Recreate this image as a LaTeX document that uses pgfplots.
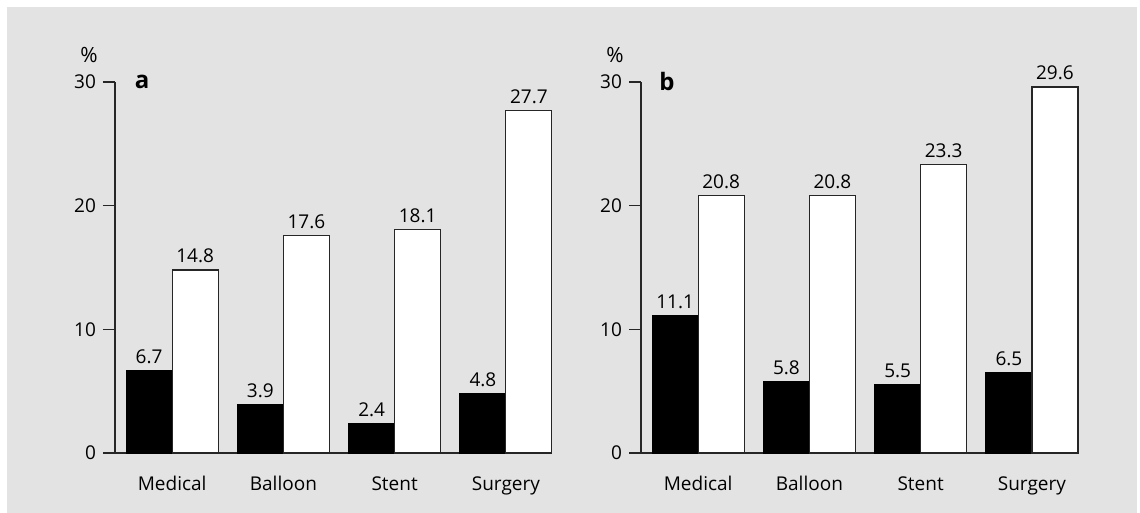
\documentclass[border=0pt]{standalone}
\usepackage{fontspec}
\setmainfont{Open Sans}
\usepackage{pgfplots}
\pgfplotsset{compat=1.18}
\definecolor{bg}{RGB}{227,227,227}
\pgfplotsset{
  panel/.style={
    scale only axis, width=218.5pt, height=185.5pt, anchor=south west,
    xmin=-0.5135, xmax=3.4144, ymin=0, ymax=30,
    axis x line=bottom, axis y line=left,
    axis line style={-, line width=0.6pt, black!85},
    ytick={0,10,20,30},
    xtick={0,1,2,3}, xticklabels={Medical,Balloon,Stent,Surgery},
    xtick style={draw=none},
    ytick style={line width=0.6pt, black!85},
    tick align=outside, major tick length=6pt,
    ybar, bar width=23pt,
    clip=false,
    tick label style={font=\fontsize{9.5}{11}\selectfont},
    xticklabel style={anchor=base, yshift=-13pt},
    /pgf/number format/assume math mode=true,
    nodes near coords={\pgfmathprintnumber[fixed,fixed zerofill,precision=1]{\pgfplotspointmeta}},
    every node near coord/.append style={font=\fontsize{9.5}{11}\selectfont, anchor=base, yshift=3.5pt, inner sep=0pt, black},
  },
  blk/.style={fill=black, draw=black, line width=0.6pt, bar shift=-11.5pt},
  wht/.style={fill=white, draw=black!85, line width=0.6pt, bar shift=11.5pt},
}
\begin{document}
\begin{tikzpicture}[x=1pt,y=1pt]
\fill[white] (0,0) rectangle (570,256.5);
\fill[bg] (3.5,0) rectangle (568.5,253);
\useasboundingbox (0,0) rectangle (570,256.5);
\begin{axis}[panel, at={(57.5pt,30pt)}]
  \addplot[blk] coordinates {(0,6.7) (1,3.9) (2,2.4) (3,4.8)};
  \addplot[wht] coordinates {(0,14.8) (1,17.6) (2,18.1) (3,27.7)};
  \node[font=\fontsize{10.5}{12}\selectfont] at (rel axis cs:0,1) [xshift=-13pt, yshift=13.5pt] {\%};
  \node[font=\fontsize{12}{14}\selectfont\bfseries] at (rel axis cs:0,1) [xshift=13.5pt] {a};
\end{axis}
\begin{axis}[panel, at={(320.5pt,30pt)}]
  \addplot[blk] coordinates {(0,11.1) (1,5.8) (2,5.5) (3,6.5)};
  \addplot[wht] coordinates {(0,20.8) (1,20.8) (2,23.3) (3,29.6)};
  \node[font=\fontsize{10.5}{12}\selectfont] at (rel axis cs:0,1) [xshift=-13pt, yshift=13.5pt] {\%};
  \node[font=\fontsize{12}{14}\selectfont\bfseries] at (rel axis cs:0,1) [xshift=13pt] {b};
\end{axis}
\end{tikzpicture}
\end{document}
